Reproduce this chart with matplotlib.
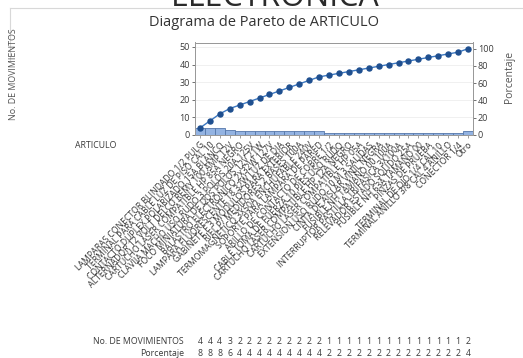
import matplotlib
matplotlib.use("Agg")
import matplotlib.pyplot as plt
import matplotlib.transforms as mtransforms
import numpy as np

plt.rcParams['font.family'] = ['Open Sans', 'DejaVu Sans']

articulos = [
    "LAMPARAS CONECTOR BLINDADO 1/2 PULG",
    "TERMINAL PARA CABLE LUZ DE PISO CAL 10",
    "CONTACTO DUPLEX POLARIZADO 15A BLANCO",
    "ALTERNADOR 12 VOLT DELCO REMY 100 AMP 12V",
    "CARTUCHO LASER COMPATIBLE HP 85A NEGRO",
    "CLAVIJA MACHO USO RUDO 3 POLOS 20A 125V",
    "FOCO MINIATURA DE DOS POLOS 12V 21W",
    "BALASTRO ELECTRONICO 2X32W 127V",
    "LAMPARA FLUORESCENTE T8 32W LUZ DE DIA",
    "GABINETE F 3 MODULOS PARA EXTERIOR",
    "RIEL P/ MEDIDORES 2 BASES 100A",
    "TERMOMAGNETICO 3X50A ENCHUFABLE 240V",
    "SOPORTE PARA LAMPARA DE PARED",
    "ARILLO DE CONTACTO DE COBRE 1/2",
    "CABLE TOMA DE FUERZA 10 PIES USO RUDO",
    "CARTUCHO LASER COMPATIBLE HP 12A NEGRO",
    "CARTUCHO LASER COMPATIBLE HP 05A",
    "EXTENSION USO RUDO 10 M 3 SALIDAS",
    "CINTA DE AISLAR VINIL NEGRA",
    "FUSIBLE NH TAMAÑO 00 100A",
    "INTERRUPTOR PASTILLA TRIFASICA 3X100A",
    "RELEVADOR ESTADO SOLIDO 25A",
    "FUSIBLE NH 63A TAMAÑO 00",
    "PINZAS DE PRUEBA",
    "TERMINAL DE OJO 1/4 CAL 10",
    "TERMINAL ANILLO 3/8 CAL 4 ANILLO",
    "CONECTOR 1/4",
    "Otro",
]
movimientos = [4, 4, 4, 3, 2, 2, 2, 2, 2, 2, 2, 2, 2,
               1, 1, 1, 1, 1, 1, 1, 1, 1, 1, 1, 1, 1, 1, 2]
porcentaje = [8, 8, 8, 6, 4, 4, 4, 4, 4, 4, 4, 4, 4,
              2, 2, 2, 2, 2, 2, 2, 2, 2, 2, 2, 2, 2, 2, 4]

total = sum(movimientos)
acumulado = np.cumsum(movimientos)
x = np.arange(len(articulos))

W, H = 523, 358
fig = plt.figure(figsize=(W / 100, H / 100), dpi=100)
fig.patch.set_facecolor("white")

txt_col = "#3a3a3a"

# page header and frame
fig.text(275 / W, 1 - 6 / H, "ELECTRONICA", fontsize=23, color="#2a2a2a",
         ha="center", va="baseline")
fig.add_artist(plt.Line2D([10 / W, 1], [1 - 8 / H, 1 - 8 / H],
                          color="#d8d8d8", lw=0.8, transform=fig.transFigure))
fig.add_artist(plt.Line2D([10 / W, 10 / W], [1 - 8 / H, 1 - 60 / H],
                          color="#d8d8d8", lw=0.8, transform=fig.transFigure))

ax = fig.add_axes([195 / W, 1 - 135 / H, 278 / W, 92.5 / H])
ymax = 52.5
ax.set_xlim(-0.5, len(articulos) - 0.5)
ax.set_ylim(0, ymax)

ax.bar(x, movimientos, width=1.0, color="#93b3e2", edgecolor="#5577aa",
       linewidth=0.6, zorder=2)
ax.plot(x, acumulado, color="#3b78c2", lw=1.0, marker="o", markersize=3.6,
        markerfacecolor="#1f4f8f", markeredgecolor="#1f4f8f", zorder=3)

ax.set_yticks([0, 10, 20, 30, 40, 50])
ax.yaxis.grid(True, color="#eeeeee", lw=0.6, zorder=0)
ax.set_axisbelow(True)
ax.tick_params(axis="y", labelsize=6.5, colors=txt_col, length=2, width=0.5, pad=1.5)
ax.set_xticks(x)
ax.set_xticklabels(articulos, rotation=45, ha="right", rotation_mode="anchor",
                   fontsize=6.2, color="#333333")
ax.tick_params(axis="x", length=2.5, width=0.5, pad=1.5, colors="#777777",
               labelcolor="#333333")
for s in ax.spines.values():
    s.set_color("#999999")
    s.set_linewidth(0.7)

ax2 = ax.twinx()
ax2.set_ylim(0, ymax / total * 100)
ax2.set_yticks([0, 20, 40, 60, 80, 100])
ax2.tick_params(axis="y", labelsize=6.5, colors=txt_col, length=2, width=0.5, pad=1.5)
for s in ax2.spines.values():
    s.set_color("#999999")
    s.set_linewidth(0.7)

fig.text(264 / W, 1 - 22 / H, "Diagrama de Pareto de ARTICULO", fontsize=10.5,
         color="#333333", ha="center", va="center")

fig.text(510 / W, 1 - 77 / H, "Porcentaje", rotation=90, fontsize=7.5,
         color="#555555", ha="center", va="center")
fig.text(14 / W, 1 - 74 / H, "No. DE MOVIMIENTOS", rotation=90, fontsize=6.4,
         color="#555555", ha="center", va="center")
fig.text(75 / W, 1 - 145 / H, "ARTICULO", fontsize=6.3, color=txt_col,
         ha="left", va="center")

# summary table under the chart
trans = mtransforms.blended_transform_factory(ax.transData, fig.transFigure)
row_y = [1 - 342 / H, 1 - 353 / H]
fig.text(184 / W, row_y[0], "No. DE MOVIMIENTOS", fontsize=6.3, color=txt_col,
         ha="right", va="center")
fig.text(184 / W, row_y[1], "Porcentaje", fontsize=6.3, color=txt_col,
         ha="right", va="center")
for xi, m, p in zip(x, movimientos, porcentaje):
    ax.text(xi, row_y[0], str(m), transform=trans, fontsize=6.3, color=txt_col,
            ha="center", va="center", clip_on=False)
    ax.text(xi, row_y[1], str(p), transform=trans, fontsize=6.3, color=txt_col,
            ha="center", va="center", clip_on=False)

fig.savefig("out.png", dpi=100)
